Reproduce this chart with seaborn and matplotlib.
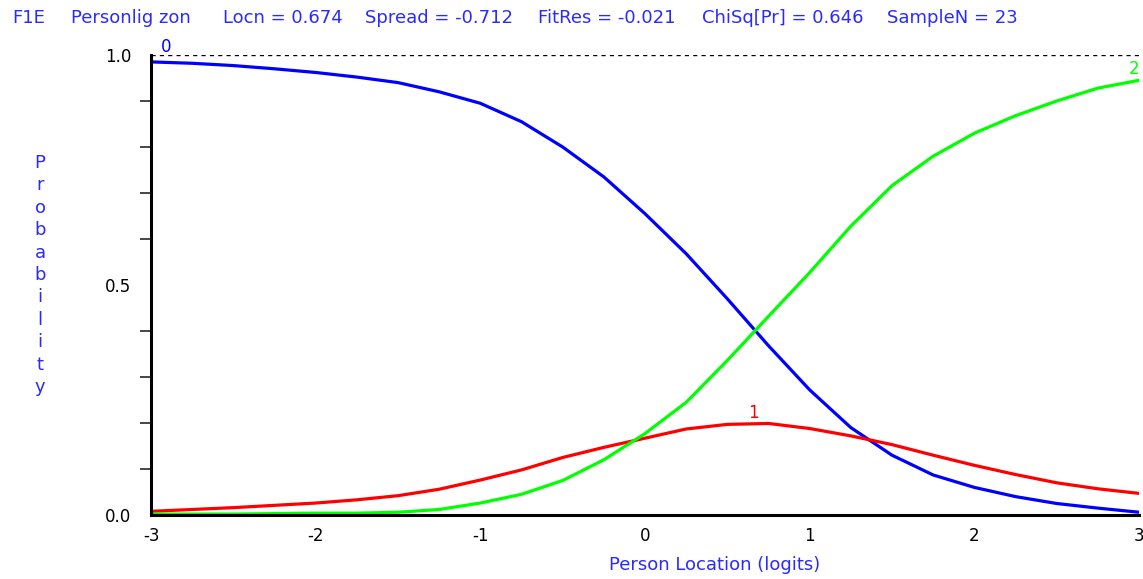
import numpy as np
import pandas as pd
import matplotlib
matplotlib.use('Agg')
import matplotlib.pyplot as plt
import seaborn as sns

# ------------------------------------------------------------
# category probability curves
# ------------------------------------------------------------
location = [-3.0, -2.75, -2.5, -2.25, -2.0, -1.75, -1.5, -1.25, -1.0, -0.75,
            -0.5, -0.25, 0.0, 0.25, 0.5, 0.75, 1.0, 1.25, 1.5, 1.75,
            2.0, 2.25, 2.5, 2.75, 3.0]

cat0 = [0.985, 0.982, 0.977, 0.970, 0.962, 0.952, 0.940, 0.920, 0.895, 0.855,
        0.800, 0.735, 0.655, 0.568, 0.470, 0.368, 0.272, 0.190, 0.130, 0.087,
        0.060, 0.040, 0.025, 0.015, 0.006]

cat1 = [0.008, 0.012, 0.016, 0.021, 0.026, 0.033, 0.042, 0.056, 0.076, 0.098,
        0.125, 0.147, 0.167, 0.187, 0.197, 0.199, 0.188, 0.172, 0.153, 0.130,
        0.108, 0.088, 0.070, 0.057, 0.047]

cat2 = [0.002, 0.002, 0.002, 0.003, 0.004, 0.004, 0.006, 0.012, 0.026, 0.045,
        0.075, 0.120, 0.177, 0.245, 0.336, 0.432, 0.527, 0.628, 0.716, 0.780,
        0.830, 0.868, 0.900, 0.928, 0.945]

categories = ['0', '1', '2']
cat_colors = ['#0000ff', '#ff0000', '#00ff00']
# where the little category numbers sit
label_x = [-2.91, 0.66, 2.97]
label_y = [0.997, 0.203, 0.95]

header = ['F1E', 'Personlig zon', 'Locn = 0.674', 'Spread = -0.712',
          'FitRes = -0.021', 'ChiSq[Pr] = 0.646', 'SampleN = 23']
header_x = [12, 71, 223, 365, 538, 702, 887]

TXT = '#2a2aff'

df = pd.DataFrame({
    'Location': location * 3,
    'Probability': cat0 + cat1 + cat2,
    'Category': ['0'] * len(location) + ['1'] * len(location) + ['2'] * len(location),
})

sns.set_style('white')
plt.rcParams['font.family'] = ['DejaVu Sans']
plt.rcParams['axes.unicode_minus'] = False

fig = plt.figure(figsize=(11.43, 5.79), dpi=100)
ax = fig.add_axes([151 / 1143, 64 / 579, 988 / 1143, 460 / 579])

sns.lineplot(data=df, x='Location', y='Probability', hue='Category',
             palette=dict(zip(categories, cat_colors)), linewidth=2.3,
             legend=False, ax=ax)

# dashed reference line at 1.0
ax.axhline(1.0, color='black', linestyle=(0, (3, 3)), linewidth=1)

for lab, c, lx, ly in zip(categories, cat_colors, label_x, label_y):
    ax.text(lx, ly, lab, color=c, fontsize=12, ha='center', va='bottom')

ax.set_xlim(-3, 3)
ax.set_ylim(0, 1.0)
ax.set_xticks([-3, -2, -1, 0, 1, 2, 3])
ax.set_yticks([0.0, 0.5, 1.0])
ax.set_yticklabels(['0.0', '0.5', '1.0'])
ax.set_yticks(np.arange(0, 1.01, 0.1), minor=True)
ax.tick_params(axis='x', direction='inout', length=9, width=1.2,
               labelsize=12, pad=4, colors='black')
ax.tick_params(axis='y', which='major', direction='out', length=10, width=1.2,
               labelsize=12, pad=4, colors='black')
ax.tick_params(axis='y', which='minor', direction='out', length=8, width=1.2,
               left=True)

for side in ['top', 'right']:
    ax.spines[side].set_visible(False)
ax.spines['left'].set_linewidth(2.2)
ax.spines['bottom'].set_linewidth(2.2)
ax.spines['left'].set_color('black')
ax.spines['bottom'].set_color('black')

ax.set_xlabel('')
ax.set_ylabel('')
fig.text(715 / 1143, 1 - 565 / 579, 'Person Location (logits)', color=TXT,
         fontsize=13, ha='center', va='center')
fig.text(40 / 1143, 1 - 275 / 579, '\n'.join('Probability'), color=TXT,
         fontsize=13, ha='center', va='center', linespacing=1.32)

for h, hx in zip(header, header_x):
    fig.text(hx / 1143, 1 - 18 / 579, h, color=TXT, fontsize=13,
             ha='left', va='center')

fig.savefig('out.png', dpi=100)
